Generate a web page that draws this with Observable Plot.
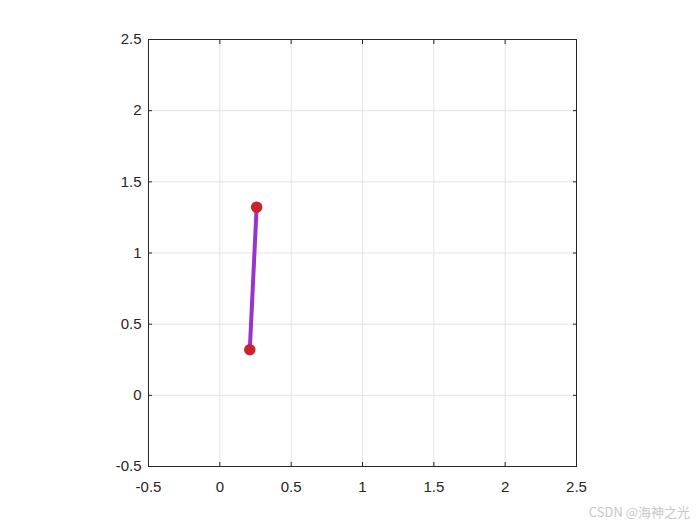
<!DOCTYPE html>
<html>
<head>
<meta charset="utf-8">
<script src="https://cdn.jsdelivr.net/npm/d3@7"></script>
<script src="https://cdn.jsdelivr.net/npm/@observablehq/plot@0.6"></script>
<style>
  body { margin: 0; background: #fff; }
  #wrap { position: relative; width: 700px; height: 525px; }
  #wm { position: absolute; right: 10px; top: 502px; font: 13px "Noto Sans CJK SC", "Liberation Sans", sans-serif; color: #c8c8c8; }
</style>
</head>
<body>
<div id="wrap"><div id="wm">CSDN @海神之光</div></div>
<script>
const linkX = [0.21, 0.258];
const linkY = [0.32, 1.322];
const tickValues = [-0.5, 0, 0.5, 1, 1.5, 2, 2.5];
const tickLabels = ["-0.5", "0", "0.5", "1", "1.5", "2", "2.5"];

const pts = linkX.map((x, i) => ({x, y: linkY[i]}));
const fmt = d => tickLabels[tickValues.indexOf(d)];
const font = "15px 'Liberation Sans', Arial, sans-serif";

const chart = Plot.plot({
  width: 700,
  height: 525,
  marginLeft: 148,
  marginRight: 124,
  marginTop: 39,
  marginBottom: 59,
  style: {font, color: "#262626", background: "#fff"},
  x: {domain: [-0.5, 2.5]},
  y: {domain: [-0.5, 2.5]},
  marks: [
    Plot.ruleX(tickValues.slice(1, -1), {stroke: "#e3e3e3", strokeWidth: 1}),
    Plot.ruleY(tickValues.slice(1, -1), {stroke: "#e3e3e3", strokeWidth: 1}),
    Plot.axisX({anchor: "bottom", ticks: tickValues, tickFormat: fmt, tickSize: 0, tickPadding: 15, fontSize: 15, label: null}),
    Plot.axisY({anchor: "left", ticks: tickValues, tickFormat: fmt, tickSize: 0, tickPadding: 7, fontSize: 15, label: null}),
    Plot.axisX({anchor: "bottom", ticks: tickValues, tickSize: 4, text: null, dy: -4, stroke: "#262626", label: null}),
    Plot.axisX({anchor: "top", ticks: tickValues, tickSize: 4, text: null, dy: 4, stroke: "#262626", label: null}),
    Plot.axisY({anchor: "left", ticks: tickValues, tickSize: 4, text: null, dx: 4, stroke: "#262626", label: null}),
    Plot.axisY({anchor: "right", ticks: tickValues, tickSize: 4, text: null, dx: -4, stroke: "#262626", label: null}),
    Plot.frame({stroke: "#262626", strokeWidth: 1}),
    Plot.line(pts, {x: "x", y: "y", stroke: "#9933cc", strokeWidth: 4}),
    Plot.dot(pts, {x: "x", y: "y", r: 5, fill: "#cc2229", stroke: "#cc2229"})
  ]
});
document.getElementById("wrap").prepend(chart);
</script>
</body>
</html>
